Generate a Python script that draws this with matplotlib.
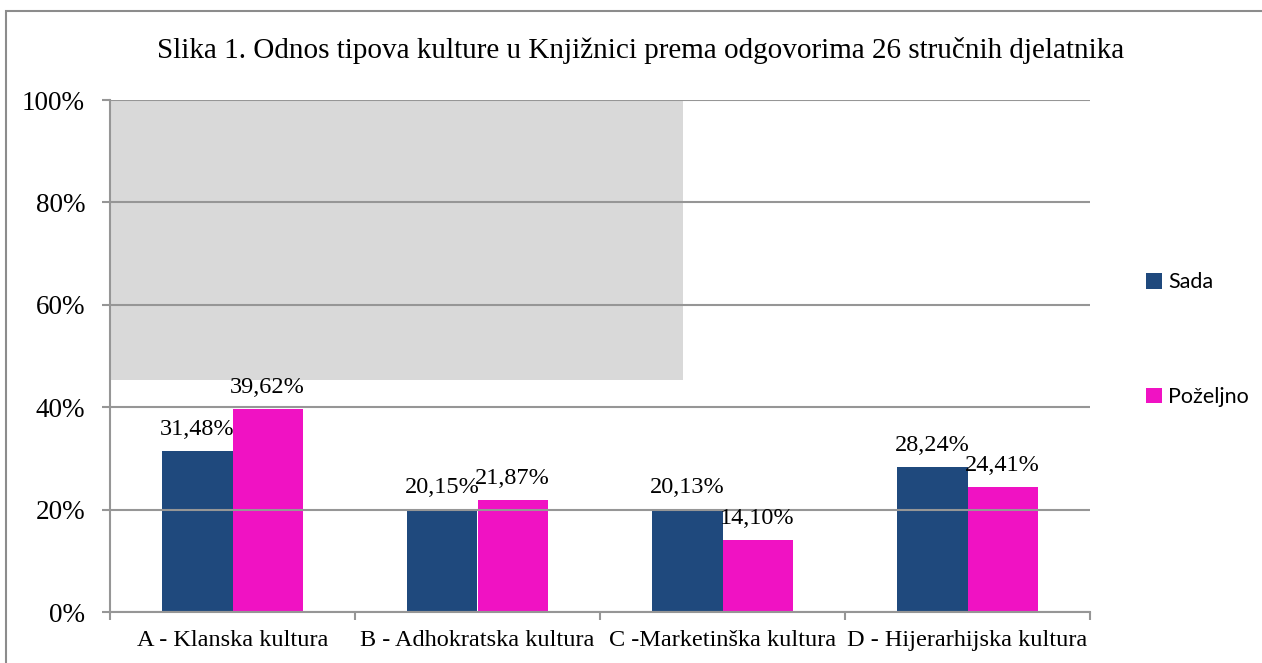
import numpy as np
import matplotlib.pyplot as plt
from matplotlib.patches import Rectangle

# data
categories = ["A - Klanska kultura", "B - Adhokratska kultura",
              "C -Marketinška kultura", "D - Hijerarhijska kultura"]
sada = [31.48, 20.15, 20.13, 28.24]
pozeljno = [39.62, 21.87, 14.10, 24.41]
series_names = ["Sada", "Poželjno"]

col_sada = "#1F497D"
col_poz = "#F012C3"
grid_col = "#969696"

fig = plt.figure(figsize=(12.62, 6.63), dpi=100)
ax = fig.add_axes([110/1262, 1-612/663, 980/1262, 512/663])

x = np.arange(len(categories))
w = 0.286

# grey block over the upper left part of the plot
ax.add_patch(Rectangle((-0.496, 45.3), 2.335, 54.7, facecolor="#D9D9D9",
                       edgecolor="none", zorder=0.5))

b1 = ax.bar(x - w/2, sada, w, color=col_sada, zorder=2, label=series_names[0])
b2 = ax.bar(x + w/2, pozeljno, w, color=col_poz, zorder=2, label=series_names[1])

for bars, vals in ((b1, sada), (b2, pozeljno)):
    for b, v in zip(bars, vals):
        ax.annotate(f"{v:.2f}%".replace(".", ","),
                    (b.get_x() + b.get_width()/2, v),
                    xytext=(0, 8), textcoords="offset points",
                    ha="center", va="bottom", fontsize=17.5,
                    family="Liberation Serif", zorder=3)

ax.set_xlim(-0.5, 3.5)
ax.set_ylim(0, 100)
ax.set_yticks(range(0, 101, 20))
ax.set_yticklabels([f"{t}%" for t in range(0, 101, 20)],
                   family="Liberation Serif", fontsize=19.5)
ax.yaxis.grid(True, color=grid_col, linewidth=1.5, zorder=1)
ax.set_axisbelow(False)

ax.set_xticks(x)
ax.set_xticklabels(categories, family="Liberation Serif", fontsize=17.5)
ax.set_xticks(np.arange(-0.5, 4.0, 1.0), minor=True)
ax.tick_params(axis="x", which="major", length=0, pad=13)
ax.tick_params(axis="x", which="minor", length=6, color=grid_col, width=1.5)
ax.tick_params(axis="y", length=6, color=grid_col, width=1.5, pad=12)

for s in ("top", "right"):
    ax.spines[s].set_visible(False)
for s in ("left", "bottom"):
    ax.spines[s].set_color(grid_col)
    ax.spines[s].set_linewidth(1.5)
ax.patch.set_alpha(0)

# legend entries placed by hand to mimic the original layout
leg = ax.legend(handles=[b1, b2], loc="center left",
                bbox_to_anchor=(1.037, 0.532), frameon=False,
                prop={"family": "Lato", "size": 15.5},
                handlelength=0.75, handleheight=0.75, handletextpad=0.3,
                labelspacing=4.4)

fig.text(641/1262, 1-50/663, "Slika 1. Odnos tipova kulture u Knjižnici prema odgovorima 26 stručnih djelatnika",
         ha="center", va="center", family="Liberation Serif", fontsize=21)

# outer chart frame
fig.patches.append(Rectangle((6/1262, -0.1), 1.2, 1-11/663+0.1,
                             transform=fig.transFigure, fill=False,
                             edgecolor="#8C8C8C", linewidth=1.5))

plt.savefig("out.png", dpi=100)
